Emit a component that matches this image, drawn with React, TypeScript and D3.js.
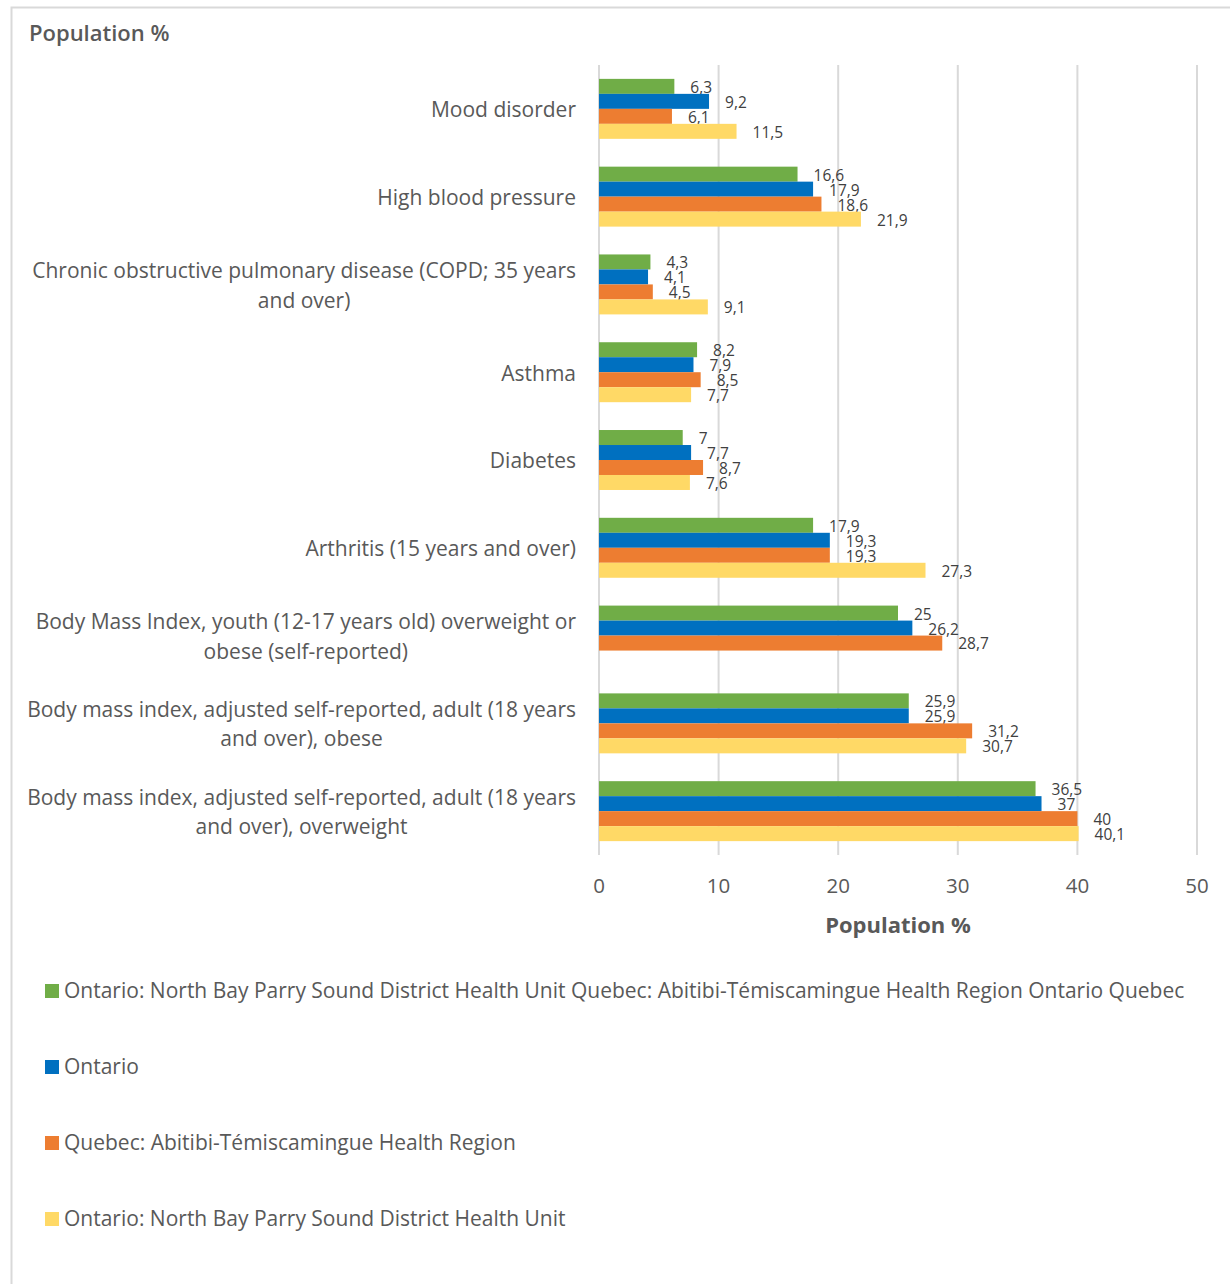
import React, { useEffect, useRef } from "react";
import * as d3 from "d3";

const categories = [
  "Mood disorder",
  "High blood pressure",
  "Chronic obstructive pulmonary disease (COPD; 35 years and over)",
  "Asthma",
  "Diabetes",
  "Arthritis (15 years and over)",
  "Body Mass Index, youth (12-17 years old) overweight or obese (self-reported)",
  "Body mass index, adjusted self-reported, adult (18 years and over), obese",
  "Body mass index, adjusted self-reported, adult (18 years and over), overweight",
];

const seriesNames = [
  "Ontario: North Bay Parry Sound District Health Unit Quebec: Abitibi-Témiscamingue Health Region Ontario Quebec",
  "Ontario",
  "Quebec: Abitibi-Témiscamingue Health Region",
  "Ontario: North Bay Parry Sound District Health Unit",
];

const seriesColors = ["#70AD47", "#0070C0", "#ED7D31", "#FFD966"];

const valuesGreen = [6.3, 16.6, 4.3, 8.2, 7, 17.9, 25, 25.9, 36.5];
const valuesBlue = [9.2, 17.9, 4.1, 7.9, 7.7, 19.3, 26.2, 25.9, 37];
const valuesOrange = [6.1, 18.6, 4.5, 8.5, 8.7, 19.3, 28.7, 31.2, 40];
const valuesYellow = [11.5, 21.9, 9.1, 7.7, 7.6, 27.3, null, 30.7, 40.1];

const xTicks = [0, 10, 20, 30, 40, 50];

export default function App() {
  const ref = useRef<SVGSVGElement>(null);

  useEffect(() => {
    const svg = d3.select(ref.current);
    svg.selectAll("*").remove();
    const font = "'Open Sans', sans-serif";
    const textColor = "#595959";

    // border
    svg.append("rect").attr("x", 11.5).attr("y", 7.5).attr("width", 1240).attr("height", 1300)
      .attr("fill", "white").attr("stroke", "#d9d9d9").attr("stroke-width", 2);

    svg.append("text").attr("x", 29).attr("y", 41).attr("font-family", font)
      .attr("font-size", 22).attr("font-weight", 600).attr("fill", textColor).text("Population %");

    const x = d3.scaleLinear().domain([0, 50]).range([599, 1197]);
    const y = d3.scaleBand<string>().domain(categories).range([65, 855])
      .paddingInner(0.317).paddingOuter(0.158);
    const sub = d3.scaleBand<number>().domain([0, 1, 2, 3]).range([0, y.bandwidth()]);

    // gridlines
    svg.append("g").selectAll("line").data(xTicks).join("line")
      .attr("x1", (d) => x(d)).attr("x2", (d) => x(d)).attr("y1", 65).attr("y2", 855)
      .attr("stroke", "#d9d9d9").attr("stroke-width", 2);

    // tick labels
    svg.append("g").selectAll("text").data(xTicks).join("text")
      .attr("x", (d) => x(d)).attr("y", 893).attr("text-anchor", "middle")
      .attr("font-family", font).attr("font-size", 20.5).attr("fill", textColor).text((d) => d);

    svg.append("text").attr("x", (x(0) + x(50)) / 2).attr("y", 933).attr("text-anchor", "middle")
      .attr("font-family", font).attr("font-size", 22).attr("font-weight", 700).attr("fill", textColor)
      .text("Population %");

    const allSeries = [valuesGreen, valuesBlue, valuesOrange, valuesYellow];
    const fmt = (v: number) => String(v).replace(".", ",");

    allSeries.forEach((vals, si) => {
      const g = svg.append("g");
      const data = categories.map((c, i) => ({ c, v: vals[i] })).filter((d) => d.v != null) as { c: string; v: number }[];
      g.selectAll("rect").data(data).join("rect")
        .attr("x", x(0)).attr("y", (d) => (y(d.c) as number) + (sub(si) as number))
        .attr("width", (d) => x(d.v) - x(0)).attr("height", sub.bandwidth())
        .attr("fill", seriesColors[si]);
      g.selectAll("text").data(data).join("text")
        .attr("x", (d) => x(d.v) + 16)
        .attr("y", (d) => (y(d.c) as number) + (sub(si) as number) + sub.bandwidth() / 2 + 1)
        .attr("dy", "0.35em").attr("font-family", font).attr("font-size", 15.5).attr("fill", "#404040")
        .text((d) => fmt(d.v));
    });

    // category labels with wrapping (block right-aligned, lines centred)
    const maxW = 560;
    const lh = 29.5;
    const right = 576;
    categories.forEach((c) => {
      const t = svg.append("text").attr("text-anchor", "middle").attr("font-family", font)
        .attr("font-size", 21).attr("fill", textColor);
      const words = c.split(" ");
      const lines: string[] = [];
      let cur: string[] = [];
      const probe = t.append("tspan");
      const measure = (s: string) => {
        probe.text(s);
        return (probe.node() as SVGTSpanElement).getComputedTextLength();
      };
      words.forEach((w) => {
        const test = [...cur, w].join(" ");
        if (measure(test) > maxW && cur.length) {
          lines.push(cur.join(" "));
          cur = [w];
        } else cur.push(w);
      });
      if (cur.length) lines.push(cur.join(" "));
      const widest = d3.max(lines, (l) => measure(l)) as number;
      probe.remove();
      const cx = right - widest / 2;
      const cy = (y(c) as number) + y.bandwidth() / 2 + 1;
      const y0 = cy - ((lines.length - 1) * lh) / 2;
      lines.forEach((ln, i) => {
        t.append("tspan").attr("x", cx).attr("y", y0 + i * lh).attr("dy", "0.35em").text(ln);
      });
    });

    // legend
    seriesNames.forEach((n, i) => {
      const ly = 991 + i * 76;
      svg.append("rect").attr("x", 45).attr("y", ly - 7).attr("width", 14).attr("height", 14)
        .attr("fill", seriesColors[i]);
      svg.append("text").attr("x", 64).attr("y", ly).attr("dy", "0.35em").attr("font-family", font)
        .attr("font-size", 21).attr("fill", textColor).text(n);
    });
  }, []);

  return (
    <svg ref={ref} width={1230} height={1284}
      style={{ position: "absolute", left: 0, top: 0, background: "white" }} />
  );
}
